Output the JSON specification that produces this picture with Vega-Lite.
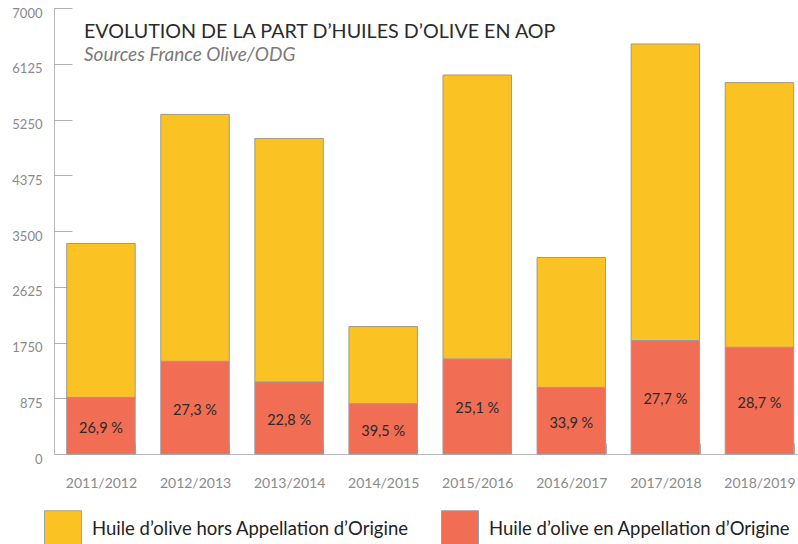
{
  "$schema": "https://vega.github.io/schema/vega-lite/v6.json",
  "width": 744,
  "height": 446,
  "autosize": {"type": "none"},
  "padding": {"left": 54, "top": 8, "right": 0, "bottom": 90},
  "background": "white",
  "config": {"view": {"stroke": null}, "font": "Lato"},
  "title": {
    "text": "EVOLUTION DE LA PART D’HUILES D’OLIVE EN AOP",
    "subtitle": "Sources France Olive/ODG",
    "anchor": "start",
    "frame": "group",
    "orient": "top",
    "offset": -58,
    "dx": 30,
    "fontSize": 19.7,
    "fontWeight": "normal",
    "color": "#2b2b2b",
    "subtitleFontSize": 19,
    "subtitleFontStyle": "italic",
    "subtitleColor": "#7a7a7a",
    "subtitlePadding": 4
  },
  "data": {
    "values": [
      {"season": "2011/2012", "type": "Huile d’olive en Appellation d’Origine", "value": 889, "label": "26,9 %"},
      {"season": "2011/2012", "type": "Huile d’olive hors Appellation d’Origine", "value": 2415},
      {"season": "2012/2013", "type": "Huile d’olive en Appellation d’Origine", "value": 1455, "label": "27,3 %"},
      {"season": "2012/2013", "type": "Huile d’olive hors Appellation d’Origine", "value": 3875},
      {"season": "2013/2014", "type": "Huile d’olive en Appellation d’Origine", "value": 1131, "label": "22,8 %"},
      {"season": "2013/2014", "type": "Huile d’olive hors Appellation d’Origine", "value": 3822},
      {"season": "2014/2015", "type": "Huile d’olive en Appellation d’Origine", "value": 790, "label": "39,5 %"},
      {"season": "2014/2015", "type": "Huile d’olive hors Appellation d’Origine", "value": 1210},
      {"season": "2015/2016", "type": "Huile d’olive en Appellation d’Origine", "value": 1492, "label": "25,1 %"},
      {"season": "2015/2016", "type": "Huile d’olive hors Appellation d’Origine", "value": 4456},
      {"season": "2016/2017", "type": "Huile d’olive en Appellation d’Origine", "value": 1046, "label": "33,9 %"},
      {"season": "2016/2017", "type": "Huile d’olive hors Appellation d’Origine", "value": 2038},
      {"season": "2017/2018", "type": "Huile d’olive en Appellation d’Origine", "value": 1780, "label": "27,7 %"},
      {"season": "2017/2018", "type": "Huile d’olive hors Appellation d’Origine", "value": 4655},
      {"season": "2018/2019", "type": "Huile d’olive en Appellation d’Origine", "value": 1675, "label": "28,7 %"},
      {"season": "2018/2019", "type": "Huile d’olive hors Appellation d’Origine", "value": 4154}
    ]
  },
  "encoding": {
    "x": {
      "field": "season",
      "type": "nominal",
      "sort": null,
      "scale": {"paddingInner": 0.272, "paddingOuter": 0.0905, "align": 0.747},
      "axis": {
        "title": null,
        "labelAngle": 0,
        "tickBand": "extent",
        "tickSize": -11,
        "tickColor": "#b0b0b0",
        "domainColor": "#b8b8b8",
        "labelColor": "#8a8a8a",
        "labelFontSize": 14,
        "labelPadding": 33
      }
    }
  },
  "layer": [
    {
      "mark": {"type": "bar", "stroke": "#9a9a9a", "strokeWidth": 1},
      "encoding": {
        "y": {
          "field": "value",
          "type": "quantitative",
          "stack": "zero",
          "scale": {"domain": [0, 7000], "nice": false},
          "axis": {
            "title": null,
            "grid": false,
            "format": "d",
            "values": [0, 875, 1750, 2625, 3500, 4375, 5250, 6125, 7000],
            "tickSize": -18,
            "tickWidth": 1,
            "tickColor": "#b0b0b0",
            "domainColor": "#b8b8b8",
            "labelColor": "#8a8a8a",
            "labelFontSize": 13,
            "labelPadding": 30,
            "labelOffset": 5
          }
        },
        "color": {
          "field": "type",
          "type": "nominal",
          "scale": {
            "domain": ["Huile d’olive hors Appellation d’Origine", "Huile d’olive en Appellation d’Origine"],
            "range": ["#FBC223", "#F16D54"]
          },
          "legend": {
            "title": null,
            "orient": "none",
            "legendX": -10,
            "legendY": 502,
            "direction": "horizontal",
            "symbolType": "square",
            "symbolSize": 1369,
            "symbolStrokeColor": "#a0a0a0",
            "symbolStrokeWidth": 1,
            "labelFontSize": 18.5,
            "labelColor": "#222222",
            "labelOffset": 10,
            "labelLimit": 400,
            "columnPadding": 30,
            "padding": 0
          }
        },
        "order": {"field": "type", "sort": "ascending"}
      }
    },
    {
      "transform": [
        {"filter": "datum.label"},
        {"calculate": "datum.value / 2", "as": "mid"}
      ],
      "mark": {"type": "text", "fontSize": 14.5, "color": "#2a2a2a", "dy": 3},
      "encoding": {
        "y": {"field": "mid", "type": "quantitative"},
        "text": {"field": "label"}
      }
    }
  ]
}
